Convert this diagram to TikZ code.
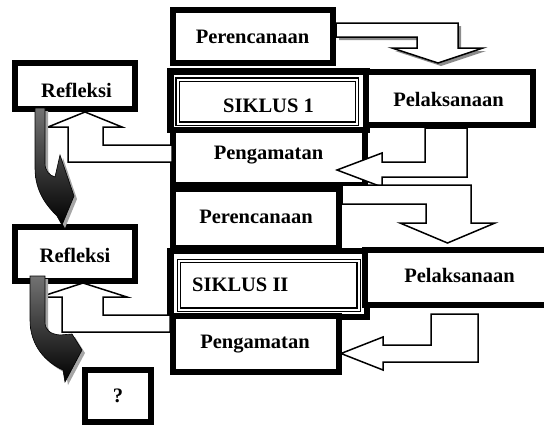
\documentclass[tikz,border=0pt]{standalone}
\usepackage{fontspec}
\setmainfont{Liberation Serif}
\usetikzlibrary{fit}
\begin{document}
\begin{tikzpicture}[x=1pt,y=-1pt,
  box/.style={draw=black, line width=6.5pt, fill=white, inner sep=0pt, outer sep=0pt},
  dbox/.style={draw=black, double=white, double distance=2pt, line width=1.3pt, inner sep=0pt, outer sep=0pt},
  lbl/.style={font=\bfseries\fontsize{20.5}{24}\selectfont, inner sep=0pt, anchor=base},
  barrow/.style={draw=black, line width=1.5pt, fill=white, line join=miter},
  bshadow/.style={fill=black!45, draw=none},
  carrow/.style={draw=black, line width=0.6pt, top color=black!55, bottom color=black},
  cshadow/.style={fill=black!35, draw=none}
]
\useasboundingbox (0,0) rectangle (544,426);

% ---------------- cycle 1 boxes ----------------
\node[box, fit={(170.25,71.25)(366.75,129.75)}] (sik1) {};
\node[box, fit={(173,130)(365,185)}] (peng1) {};
\node[dbox, fit={(177.5,79.5)(357,123.5)}] (sik1in) {};
\node[box, fit={(173,10)(333,63)}] (per1) {};
\node[box, fit={(366,72)(533,125)}] (pel1) {};
\node[box, fit={(15,63)(135,109)}] (ref1) {};

\node[lbl] (tper1) at (252.5,43) {Perencanaan};
\node[lbl] (tsik1) at (268.5,112) {SIKLUS 1};
\node[lbl] (tpel1) at (448.5,106) {Pelaksanaan};
\node[lbl] (tpeng1) at (268.5,159) {Pengamatan};
\node[lbl] (tref1) at (76.5,97) {Refleksi};

% Perencanaan 1 -> Pelaksanaan 1
\fill[bshadow, shift={(3,3)}] (336,23) -- (458,23) -- (458,48) -- (483,48) -- (438,63) -- (392,48) -- (417,48) -- (417,37) -- (336,37) -- cycle;
\draw[barrow] (336,23) -- (458,23) -- (458,48) -- (483,48) -- (438,63) -- (392,48) -- (417,48) -- (417,37) -- (336,37) -- cycle;

% Pengamatan 1 -> Refleksi 1
\draw[barrow] (172,145) -- (103,145) -- (103,127) -- (122,127) -- (85,112) -- (48,127) -- (68,127) -- (68,162) -- (172,162) -- cycle;

% Pelaksanaan 1 -> Pengamatan 1
\draw[barrow] (425,128) -- (467,128) -- (467,177) -- (382,177) -- (382,187) -- (337,170) -- (382,153) -- (382,162) -- (425,162) -- cycle;

% ---------------- cycle 2 boxes ----------------
\node[box, fit={(173,189)(339,248)}] (per2) {};
\node[box, fit={(170.25,251)(366.75,317)}] (sik2) {};
\node[box, fit={(173,316)(339,372)}] (peng2) {};
\node[dbox, fit={(179,261)(358.5,309.5)}] (sik2in) {};
\node[box, fit={(365,250)(570,305)}] (pel2) {};
\node[box, fit={(15,227)(135,281)}] (ref2) {};
\node[box, fit={(85,370)(151,422)}] (q) {};

\node[lbl] (tper2) at (256,223) {Perencanaan};
\node[lbl, anchor=base west] (tsik2) at (192,291) {SIKLUS II};
\node[lbl] (tpel2) at (459.5,282) {Pelaksanaan};
\node[lbl] (tpeng2) at (255,348) {Pengamatan};
\node[lbl] (tref2) at (75,262) {Refleksi};
\node[lbl] (tq) at (118,402) {?};

% Perencanaan 2 -> Pelaksanaan 2
\draw[barrow] (342,185) -- (471,185) -- (471,223) -- (495,223) -- (447.5,243) -- (400,223) -- (426,223) -- (426,204) -- (342,204) -- cycle;

% Pelaksanaan 2 -> Pengamatan 2
\draw[barrow] (431,314) -- (478,314) -- (478,362) -- (383,362) -- (383,370) -- (341,353.5) -- (383,337) -- (383,345) -- (431,345) -- cycle;

% Pengamatan 2 -> Refleksi 2
\draw[barrow] (170,315) -- (103,315) -- (103,297) -- (127,297) -- (83,283) -- (40,297) -- (62,297) -- (62,332) -- (170,332) -- cycle;

% ---------------- curved dark arrows ----------------
\fill[cshadow, shift={(3,3)}] (35,108) -- (35,168) .. controls (35,192) and (47,206) .. (57,216) -- (62,225) -- (74,196) -- (60,155) -- (55,177) .. controls (49,175) and (45,171) .. (45,163) -- (45,108) -- cycle;
\draw[carrow] (35,108) -- (35,168) .. controls (35,192) and (47,206) .. (57,216) -- (62,225) -- (74,196) -- (60,155) -- (55,177) .. controls (49,175) and (45,171) .. (45,163) -- (45,108) -- cycle;

\fill[cshadow, shift={(3,3)}] (30,276) -- (30,320) .. controls (30,345) and (45,362) .. (63,370) -- (65,382) -- (82,350) -- (72,334) -- (60,335) .. controls (50,334) and (45,330) .. (45,322) -- (45,276) -- cycle;
\draw[carrow] (30,276) -- (30,320) .. controls (30,345) and (45,362) .. (63,370) -- (65,382) -- (82,350) -- (72,334) -- (60,335) .. controls (50,334) and (45,330) .. (45,322) -- (45,276) -- cycle;
\end{tikzpicture}
\end{document}
